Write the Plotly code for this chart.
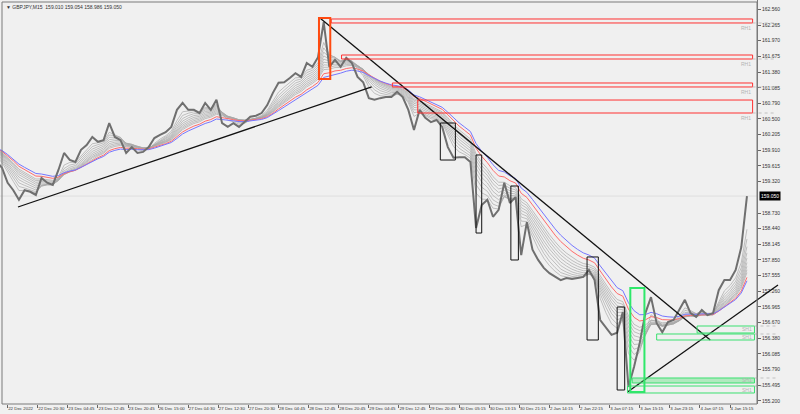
import plotly.graph_objects as go
import pandas as pd

# ---------------- data ----------------
BARS_PER_POINT = 6          # one close value every 6 M15 bars
history = [160.05, 160.00, 159.95, 159.90, 159.80, 159.70]   # closes just before the visible window
close = [
    159.58, 159.30, 159.16, 158.98, 159.16, 159.13, 159.07, 159.39, 159.30, 159.26,
    159.54, 159.86, 159.73, 159.69, 159.92, 160.01, 160.16, 160.07, 160.10, 160.42,
    160.16, 160.10, 159.86, 159.97, 159.86, 159.88, 159.97, 160.14, 160.20, 160.25,
    160.35, 160.67, 160.80, 160.67, 160.67, 160.61, 160.80, 160.67, 160.86, 160.42,
    160.35, 160.42, 160.35, 160.44, 160.54, 160.56, 160.61, 160.76, 160.99, 161.18,
    161.19, 161.27, 161.36, 161.29, 161.55, 161.48, 161.66, 162.32, 161.48, 161.61,
    161.48, 161.65, 161.55, 161.29, 161.19, 160.89, 160.86, 160.89, 160.91, 160.91,
    161.01, 160.91, 160.67, 160.29, 160.67, 160.52, 160.44, 160.48, 160.35, 159.97,
    159.77, 159.78, 159.78, 159.69, 158.45, 158.88, 158.98, 158.66, 158.79, 159.30,
    158.92, 159.03, 157.94, 158.56, 158.04, 157.85, 157.70, 157.60, 157.53, 157.47,
    157.51, 157.49, 157.51, 157.53, 157.66, 157.47, 156.72, 156.59, 156.44, 156.48,
    156.87, 155.46, 155.84, 156.29, 156.85, 157.15, 156.66, 156.49, 156.68, 156.72,
    156.91, 157.10, 156.85, 156.78, 156.91, 156.81, 156.85, 157.28, 157.47, 157.47,
    157.66, 158.09, 159.05,
]
x_labels = ["22 Dec 2022", "22 Dec 20:30", "23 Dec 04:45", "23 Dec 12:45", "23 Dec 20:45",
            "26 Dec 15:00", "27 Dec 04:30", "27 Dec 12:30", "27 Dec 20:30", "28 Dec 04:45",
            "28 Dec 12:45", "28 Dec 20:45", "29 Dec 04:45", "29 Dec 12:45", "29 Dec 20:45",
            "30 Dec 05:15", "30 Dec 13:15", "30 Dec 21:15", "2 Jan 14:15", "2 Jan 22:15",
            "3 Jan 07:15", "3 Jan 15:15", "3 Jan 23:15", "4 Jan 07:15", "4 Jan 15:15"]
FIRST_LABEL_BAR = 6
BARS_PER_LABEL = 32
price_labels = ["162.560", "162.265", "161.970", "161.675", "161.380", "161.085", "160.790",
                "160.500", "160.205", "159.910", "159.615", "159.320", "158.730", "158.440",
                "158.145", "157.850", "157.555", "157.260", "156.965", "156.670", "156.380",
                "156.085", "155.790", "155.495", "155.200"]
last_price = 159.050
title_text = "▼ GBPJPY,M15  159.010 159.054 158.986 159.050"

ema_grey_spans = [3, 4, 5, 6, 7, 8, 9, 10, 11]
ema_red_span = 13
ema_blue_span = 15

# trend lines: (bar0, price0, bar1, price1)
trend_lines = [(17, 158.844, 393, 161.100),
               (338, 162.397, 753, 156.344),
               (665, 155.367, 825, 157.378)]
# resistance zones (bar0, bar1, price_top, price_bottom)
red_zones = [(350, 798, 162.378, 162.303),
             (361, 798, 161.701, 161.626),
             (415, 798, 161.175, 161.100),
             (442, 798, 160.855, 160.611)]
orange_box = (337, 349, 162.397, 161.250)
black_boxes = [(466, 482, 160.423, 159.727),
               (504, 510, 159.822, 158.355),
               (541, 549, 159.239, 157.848),
               (622, 634, 157.905, 156.344),
               (654, 662, 156.964, 155.404)]
green_box = (668, 683, 157.322, 155.367)
green_zones = [(739, 800, 156.607, 156.476, False),
               (696, 800, 156.457, 156.344, False),
               (670, 800, 155.630, 155.536, True),
               (665, 800, 155.479, 155.348, False)]
AXIS_BAR = 823   # dotted extension to the price scale

# ---------------- build ----------------
W, H = 800, 414
PX_PER_BAR = 0.9406
X0_BAR = -2 / PX_PER_BAR
X1_BAR = (W - 2) / PX_PER_BAR
Y_TOP, Y_BOT = 162.735, 155.141
FONT = "Liberation Sans"

allc = history + close
xs = [(i - len(history)) * BARS_PER_POINT for i in range(len(allc))]
s = pd.Series(allc)

fig = go.Figure()
for sp in ema_grey_spans:
    fig.add_trace(go.Scatter(x=xs, y=s.ewm(span=sp, adjust=False).mean(), mode="lines",
                             line=dict(color="#a8a8a8", width=0.7), hoverinfo="skip", showlegend=False))
fig.add_trace(go.Scatter(x=xs, y=s.ewm(span=ema_red_span, adjust=False).mean(), mode="lines",
                         line=dict(color="#ff6b6b", width=1), showlegend=False))
fig.add_trace(go.Scatter(x=xs, y=s.ewm(span=ema_blue_span, adjust=False).mean(), mode="lines",
                         line=dict(color="#7676ff", width=1), showlegend=False))
fig.add_trace(go.Scatter(x=xs, y=allc, mode="lines",
                         line=dict(color="#6f6f6f", width=2), showlegend=False))

shapes = []
# last price line
shapes.append(dict(type="line", xref="x", yref="y", x0=X0_BAR, x1=(757 - 2) / PX_PER_BAR,
                   y0=last_price, y1=last_price, line=dict(color="#dedede", width=1), layer="below"))
for (b0, p0, b1, p1) in trend_lines:
    shapes.append(dict(type="line", xref="x", yref="y", x0=b0, y0=p0, x1=b1, y1=p1,
                       line=dict(color="#111111", width=1.3)))
for (b0, b1, pt, pb) in red_zones:
    shapes.append(dict(type="rect", xref="x", yref="y", x0=b0, x1=b1, y0=pb, y1=pt,
                       line=dict(color="#ff3030", width=1), fillcolor="rgba(0,0,0,0)"))
    shapes.append(dict(type="line", xref="x", yref="y", x0=b1, x1=AXIS_BAR, y0=pb, y1=pb,
                       line=dict(color="#c0c0c0", width=1, dash="dot")))
b0, b1, pt, pb = orange_box
shapes.append(dict(type="rect", xref="x", yref="y", x0=b0, x1=b1, y0=pb, y1=pt,
                   line=dict(color="#ff4a10", width=2)))
for (b0, b1, pt, pb) in black_boxes:
    shapes.append(dict(type="rect", xref="x", yref="y", x0=b0, x1=b1, y0=pb, y1=pt,
                       line=dict(color="#111111", width=1)))
b0, b1, pt, pb = green_box
shapes.append(dict(type="rect", xref="x", yref="y", x0=b0, x1=b1, y0=pb, y1=pt,
                   line=dict(color="#2ee86a", width=2)))
for (b0, b1, pt, pb, filled) in green_zones:
    shapes.append(dict(type="rect", xref="x", yref="y", x0=b0, x1=b1, y0=pb, y1=pt,
                       line=dict(color="#3ae070", width=1),
                       fillcolor="rgba(60,220,100,0.35)" if filled else "rgba(0,0,0,0)"))
    shapes.append(dict(type="line", xref="x", yref="y", x0=b1, x1=AXIS_BAR, y0=pt, y1=pt,
                       line=dict(color="#c0c0c0", width=1, dash="dot")))
# chart frame
plot_h = H - 10
shapes.append(dict(type="rect", xref="paper", yref="paper", x0=2 / W, x1=757 / W,
                   y0=0, y1=1 - 2 / plot_h, line=dict(color="#7a7a7a", width=1)))

annotations = []
for (b0, b1, pt, pb) in red_zones:
    annotations.append(dict(x=b1, y=pb, xref="x", yref="y", text="RH1", showarrow=False,
                            xanchor="right", yanchor="top", font=dict(size=5, color="#b4b4b4")))
for (b0, b1, pt, pb, filled) in green_zones:
    annotations.append(dict(x=b1, y=(pt + pb) / 2, xref="x", yref="y", text="SH1", showarrow=False,
                            xanchor="right", yanchor="middle", font=dict(size=5, color="#b4b4b4")))
annotations.append(dict(x=757 / W + 0.002, y=last_price, xref="paper", yref="y",
                        text=f"{last_price:.3f}", showarrow=False, xanchor="left",
                        yanchor="middle", bgcolor="#000000", font=dict(size=5, color="#ffffff"),
                        borderpad=1))
annotations.append(dict(x=4 / W, y=1 - 2 / plot_h, xref="paper", yref="paper", text=title_text,
                        showarrow=False, xanchor="left", yanchor="top",
                        font=dict(size=5, color="#333333")))

fig.update_layout(
    width=W, height=H,
    margin=dict(l=0, r=0, t=0, b=10, autoexpand=False),
    paper_bgcolor="#f0f0f0", plot_bgcolor="#f0f0f0",
    font=dict(family=FONT, color="#333333"),
    shapes=shapes, annotations=annotations, showlegend=False,
    xaxis=dict(domain=[0, 1], range=[X0_BAR, X1_BAR], showgrid=False, zeroline=False,
               showline=False, automargin=False, tickangle=0,
               tickvals=[FIRST_LABEL_BAR + BARS_PER_LABEL * k for k in range(len(x_labels))],
               ticktext=x_labels, ticks="outside", ticklen=3, tickcolor="#666666",
               ticklabelposition="outside right", tickfont=dict(size=4.4, color="#333333")),
    yaxis=dict(range=[Y_BOT, Y_TOP], side="right", anchor="free", position=757 / W,
               showgrid=False, zeroline=False, showline=True, linecolor="#7a7a7a",
               automargin=False,
               tickvals=[float(t) for t in price_labels], ticktext=price_labels,
               ticks="outside", ticklen=3, tickcolor="#666666",
               tickfont=dict(size=5, color="#333333")),
)
fig.write_html("out.html", config={"displayModeBar": False},
               post_script="document.body.style.margin='0';document.body.style.background='#f0f0f0';")
